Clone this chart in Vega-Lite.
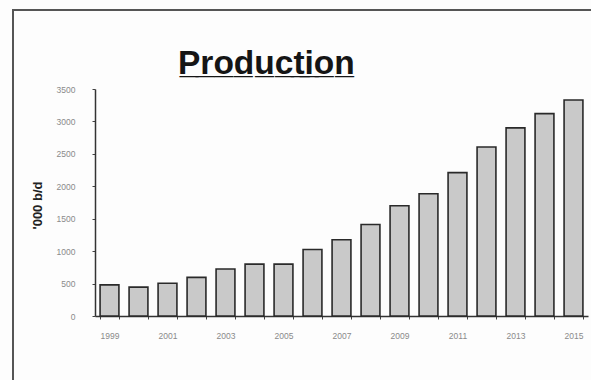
{
  "$schema": "https://vega.github.io/schema/vega-lite/v6.json",
  "autosize": "none",
  "padding": {"left": 13, "top": 10, "right": 0, "bottom": 0},
  "width": 590,
  "height": 380,
  "background": "#fdfdfd",
  "title": {
    "text": "P̲r̲o̲d̲u̲c̲t̲i̲o̲n̲",
    "frame": "group",
    "anchor": "start",
    "orient": "top",
    "offset": 0,
    "dx": 165,
    "dy": 97,
    "baseline": "alphabetic",
    "font": "Liberation Sans",
    "fontSize": 33.5,
    "fontWeight": "bold",
    "color": "#151515"
  },
  "data": {
    "values": [
      {"year": 1999, "production": 480},
      {"year": 2000, "production": 445},
      {"year": 2001, "production": 505},
      {"year": 2002, "production": 595},
      {"year": 2003, "production": 725},
      {"year": 2004, "production": 800},
      {"year": 2005, "production": 800},
      {"year": 2006, "production": 1025},
      {"year": 2007, "production": 1175},
      {"year": 2008, "production": 1410},
      {"year": 2009, "production": 1700},
      {"year": 2010, "production": 1885},
      {"year": 2011, "production": 2210},
      {"year": 2012, "production": 2605},
      {"year": 2013, "production": 2900},
      {"year": 2014, "production": 3120},
      {"year": 2015, "production": 3330}
    ]
  },
  "mark": {
    "type": "bar",
    "fill": "#c9c9c9",
    "stroke": "#2a2a2a",
    "strokeWidth": 1.6
  },
  "encoding": {
    "x": {
      "field": "year",
      "type": "ordinal",
      "scale": {"range": [82, 575], "paddingInner": 0.35, "paddingOuter": 0.175},
      "axis": {
        "title": null,
        "offset": -74,
        "labelAngle": 0,
        "labelExpr": "datum.value % 2 == 1 ? datum.label : ''",
        "tickBand": "extent",
        "tickSize": 3,
        "tickColor": "#444",
        "domainColor": "#333",
        "domainWidth": 1.5,
        "labelFont": "Liberation Sans",
        "labelFontSize": 8.5,
        "labelColor": "#8a8a8a",
        "labelPadding": 12
      }
    },
    "y": {
      "field": "production",
      "type": "quantitative",
      "scale": {"domain": [0, 3500], "range": [306, 79], "nice": false},
      "axis": {
        "title": "'000 b/d",
        "offset": -82,
        "values": [0, 500, 1000, 1500, 2000, 2500, 3000, 3500],
        "format": "d",
        "grid": false,
        "tickSize": 3,
        "tickColor": "#444",
        "domainColor": "#333",
        "domainWidth": 1.5,
        "labelFont": "Liberation Sans",
        "labelFontSize": 8.5,
        "labelColor": "#8a8a8a",
        "labelPadding": 17,
        "titleFont": "Liberation Sans",
        "titleFontSize": 13,
        "titleFontWeight": "bold",
        "titleColor": "#222",
        "titleAngle": -90,
        "titleAlign": "center",
        "titleBaseline": "middle",
        "titleX": -58,
        "titleY": 195
      }
    }
  },
  "config": {
    "view": {"stroke": "#555", "strokeWidth": 2}
  }
}
